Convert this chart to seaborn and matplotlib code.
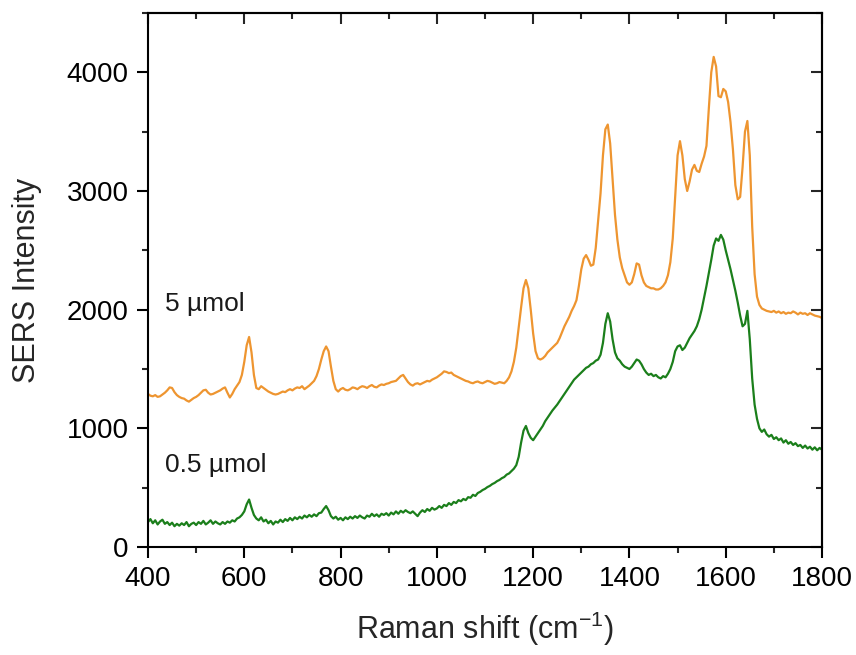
import numpy as np
import pandas as pd
import matplotlib
matplotlib.use("Agg")
import matplotlib.pyplot as plt
from matplotlib.ticker import MultipleLocator
import seaborn as sns

# ---- data ----
raman_shift = list(range(400, 1805, 5))

intensity_5umol = [
    # 400-495
    1290, 1275, 1270, 1280, 1265, 1270, 1285, 1300, 1320, 1345, 1340, 1305, 1280, 1265, 1255, 1250, 1235, 1225, 1240, 1255,
    # 500-595
    1265, 1280, 1300, 1320, 1325, 1300, 1285, 1290, 1300, 1310, 1320, 1335, 1345, 1300, 1260, 1290, 1330, 1360, 1390, 1450,
    # 600-695
    1560, 1700, 1770, 1640, 1450, 1340, 1330, 1355, 1340, 1325, 1310, 1300, 1290, 1285, 1290, 1300, 1310, 1305, 1320, 1330,
    # 700-795
    1320, 1335, 1345, 1340, 1355, 1330, 1345, 1360, 1380, 1400, 1440, 1500, 1580, 1650, 1690, 1650, 1520, 1400, 1330, 1310,
    # 800-895
    1330, 1340, 1325, 1320, 1330, 1345, 1340, 1330, 1345, 1355, 1350, 1340, 1355, 1365, 1350, 1345, 1360, 1370, 1365, 1375,
    # 900-995
    1380, 1390, 1395, 1400, 1420, 1440, 1450, 1420, 1390, 1370, 1360, 1375, 1380, 1370, 1380, 1390, 1400, 1395, 1410, 1420,
    # 1000-1095
    1430, 1445, 1460, 1480, 1475, 1465, 1470, 1450, 1440, 1430, 1420, 1410, 1400, 1395, 1385, 1380, 1390, 1395, 1385, 1380,
    # 1100-1195
    1390, 1400, 1395, 1385, 1375, 1380, 1390, 1385, 1380, 1400, 1430, 1480, 1560, 1680, 1850, 2020, 2180, 2250, 2180, 2000,
    # 1200-1295
    1800, 1650, 1590, 1580, 1590, 1610, 1640, 1660, 1680, 1700, 1720, 1760, 1810, 1860, 1900, 1940, 1990, 2030, 2080, 2200,
    # 1300-1395
    2340, 2430, 2460, 2420, 2370, 2380, 2520, 2750, 2980, 3300, 3520, 3560, 3400, 3100, 2800, 2590, 2440, 2350, 2290, 2230,
    # 1400-1495
    2210, 2230, 2300, 2390, 2380, 2290, 2230, 2200, 2190, 2180, 2180, 2170, 2170, 2180, 2200, 2230, 2290, 2400, 2600, 2950,
    # 1500-1595
    3300, 3420, 3300, 3100, 3000, 3080, 3180, 3220, 3170, 3160, 3230, 3290, 3380, 3700, 4000, 4130, 4050, 3800, 3790, 3860,
    # 1600-1695
    3840, 3750, 3580, 3350, 3050, 2930, 2950, 3200, 3500, 3590, 3300, 2700, 2300, 2110, 2040, 2010, 2000, 1990, 1985, 1980,
    # 1700-1795
    1990, 1975, 1985, 1970, 1980, 1965, 1975, 1970, 1985, 1975, 1960, 1975, 1965, 1970, 1955, 1970, 1960, 1950, 1945, 1940,
    # 1800
    1930,
]

intensity_05umol = [
    # 400-495
    210, 235, 200, 225, 190, 215, 230, 195, 210, 185, 205, 175, 195, 180, 200, 185, 210, 175, 195, 205,
    # 500-595
    185, 210, 195, 220, 190, 205, 225, 195, 215, 200, 190, 210, 195, 215, 205, 225, 215, 240, 250, 270,
    # 600-695
    300, 360, 400, 330, 270, 240, 225, 250, 215, 230, 200, 220, 190, 215, 205, 230, 210, 235, 220, 245,
    # 700-795
    225, 250, 235, 255, 240, 265, 250, 270, 255, 275, 260, 285, 290, 320, 345, 310, 260, 240, 255, 230,
    # 800-895
    245, 225, 250, 235, 255, 240, 260, 245, 265, 250, 240, 265, 255, 280, 260, 275, 255, 280, 270, 285,
    # 900-995
    265, 290, 275, 300, 280, 305, 290, 310, 295, 285, 300, 280, 260, 290, 310, 295, 320, 305, 330, 315,
    # 1000-1095
    325, 345, 330, 355, 345, 370, 355, 380, 370, 395, 385, 405, 395, 420, 415, 440, 430, 455, 465, 480,
    # 1100-1195
    490, 505, 515, 530, 540, 555, 565, 580, 590, 610, 620, 640, 660, 690, 760, 880, 980, 1020, 960, 920,
    # 1200-1295
    900, 930, 960, 990, 1020, 1060, 1090, 1120, 1150, 1175, 1200, 1230, 1260, 1290, 1320, 1350, 1380, 1410, 1430, 1450,
    # 1300-1395
    1470, 1490, 1510, 1520, 1540, 1550, 1570, 1580, 1620, 1720, 1880, 1970, 1900, 1750, 1640, 1590, 1570, 1540, 1520, 1510,
    # 1400-1495
    1500, 1520, 1550, 1580, 1570, 1540, 1500, 1470, 1450, 1460, 1440, 1450, 1430, 1420, 1440, 1430, 1460, 1500, 1560, 1650,
    # 1500-1595
    1690, 1700, 1660, 1680, 1720, 1760, 1790, 1820, 1860, 1920, 2000, 2100, 2200, 2310, 2420, 2540, 2600, 2580, 2630, 2590,
    # 1600-1695
    2500, 2420, 2340, 2250, 2160, 2060, 1950, 1860, 1880, 1990, 1750, 1420, 1200, 1080, 1000, 970, 990, 950, 930, 945,
    # 1700-1795
    910, 925, 900, 915, 880, 900, 870, 885, 860, 875, 850, 860, 835, 855, 830, 845, 820, 840, 815, 835,
    # 1800
    820,
]

series_labels = ["5 µmol", "0.5 µmol"]
series_colors = ["#EE9530", "#1B7F1B"]
x_ticks = [400, 600, 800, 1000, 1200, 1400, 1600, 1800]
y_ticks = [0, 1000, 2000, 3000, 4000]

# ---- figure ----
sns.set_style("ticks")
plt.rcParams["font.family"] = ["Liberation Sans", "DejaVu Sans"]
plt.rcParams["mathtext.fontset"] = "custom"
plt.rcParams["mathtext.rm"] = "Liberation Sans"
plt.rcParams["mathtext.it"] = "Liberation Sans:italic"
plt.rcParams["mathtext.bf"] = "Liberation Sans:bold"

df = pd.DataFrame({
    "shift": raman_shift * 2,
    "intensity": intensity_5umol + intensity_05umol,
    "sample": [series_labels[0]] * len(raman_shift) + [series_labels[1]] * len(raman_shift),
})

fig = plt.figure(figsize=(8.56, 6.55), dpi=100)
ax = fig.add_axes([148 / 856, 1 - 547 / 655, (822 - 148) / 856, (547 - 13) / 655])

sns.lineplot(data=df, x="shift", y="intensity", hue="sample",
             palette=dict(zip(series_labels, series_colors)),
             linewidth=1.6, legend=False, ax=ax, estimator=None)

ax.set_xlim(400, 1800)
ax.set_ylim(0, 4500)
ax.set_xticks(x_ticks)
ax.set_yticks(y_ticks)
ax.xaxis.set_minor_locator(MultipleLocator(100))
ax.yaxis.set_minor_locator(MultipleLocator(500))

for s in ax.spines.values():
    s.set_visible(True)
    s.set_linewidth(1.5)
    s.set_color("black")

ax.tick_params(axis="both", which="major", direction="out", length=8, width=1.5,
               labelsize=20, colors="black", pad=6)
ax.tick_params(axis="both", which="minor", direction="out", length=4, width=1.5)

# mirrored inward ticks on top and right
secx = ax.secondary_xaxis("top")
secx.set_xticks(x_ticks)
secx.xaxis.set_minor_locator(MultipleLocator(100))
secx.tick_params(which="major", direction="in", length=8, width=1.5, labeltop=False)
secx.tick_params(which="minor", direction="in", length=4, width=1.5)
secx.spines["top"].set_linewidth(1.5)

secy = ax.secondary_yaxis("right")
secy.set_yticks(y_ticks)
secy.yaxis.set_minor_locator(MultipleLocator(500))
secy.tick_params(which="major", direction="in", length=8, width=1.5, labelright=False)
secy.tick_params(which="minor", direction="in", length=4, width=1.5)
secy.spines["right"].set_linewidth(1.5)

ax.set_xlabel("Raman shift (cm$^{-1}$)", fontsize=22)
ax.set_ylabel("SERS Intensity", fontsize=22)
ax.xaxis.set_label_coords(0.5, -0.118)
ax.yaxis.set_label_coords(-0.158, 0.5)

ax.text(435, 2050, series_labels[0], fontsize=19, ha="left", va="center", color="#1a1a1a")
ax.text(435, 690, series_labels[1], fontsize=19, ha="left", va="center", color="#1a1a1a")

fig.savefig("out.png", dpi=100)
